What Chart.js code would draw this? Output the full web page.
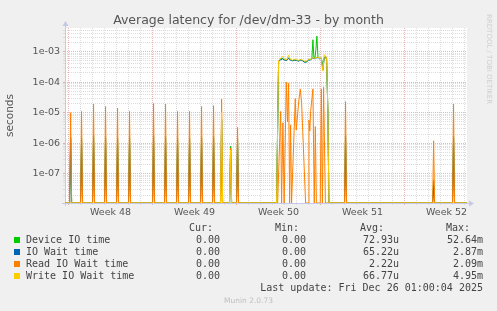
<!DOCTYPE html>
<html>
<head>
<meta charset="utf-8">
<script src="https://cdn.jsdelivr.net/npm/chart.js@4"></script>
<style>
  html, body { margin: 0; padding: 0; background: #f0f0f0; }
  #wrap { position: relative; width: 497px; height: 311px; overflow: hidden; font-family: "DejaVu Sans"; }
  #chart { position: absolute; left: 0; top: 0; }
  .t { position: absolute; white-space: pre; }
  .title { left: 0; width: 497px; text-align: center; top: 12px; font-size: 12.5px; line-height: 15px; color: #555; }
  .mono { font-family: "DejaVu Sans Mono"; font-size: 10px; line-height: 12px; color: #444; }
  .sq { position: absolute; width: 6px; height: 6px; left: 14px; }
  .munin { left: 0; width: 497px; text-align: center; top: 296px; font-size: 7.5px; line-height: 9px; color: #c0c0c0; }
  .rrd { left: 484px; top: 14px; writing-mode: vertical-rl; font-size: 7px; line-height: 9px; color: #cfcfcf; }
</style>
</head>
<body>
<div id="wrap">
  <canvas id="chart" width="497" height="311"></canvas>
  <div class="t title">Average latency for /dev/dm-33 - by month</div>
  <div class="t rrd">RRDTOOL / TOBI OETIKER</div>
  <div id="legend"></div>
  <div class="t munin">Munin 2.0.73</div>
</div>
<script>
// x values are days since the first week line (start of Week 48)
const weekLabels = ['Week 48', 'Week 49', 'Week 50', 'Week 51', 'Week 52'];
const weekMid = [3.5, 10.5, 17.5, 24.5, 31.5];
const yDecades = [1e-7, 1e-6, 1e-5, 1e-4, 1e-3];
const yLabels = ['1e-07', '1e-06', '1e-05', '1e-04', '1e-03'];

const seriesNames = ['Device IO time', 'IO Wait time', 'Read IO Wait time', 'Write IO Wait time'];
const seriesColors = ['#00cc00', '#0066b3', '#ff8000', '#ffcc00'];
const curVals = ['0.00', '0.00', '0.00', '0.00'];
const minVals = ['0.00', '0.00', '0.00', '0.00'];
const avgVals = ['72.93u', '65.22u', '2.22u', '66.77u'];
const maxVals = ['52.64m', '2.87m', '2.09m', '4.95m'];
const lastUpdate = 'Last update: Fri Dec 26 01:00:04 2025';

// short nightly spikes (everything else is 0 outside the busy block)
const spikeDays   = [0.17, 1.08, 2.08, 3.08, 4.08, 5.08, 7.08, 8.08, 9.08, 10.08, 11.08, 12.08, 12.75, 13.5, 14.08, 23.08, 30.42, 32.08];
const spikeRead   = [1.0e-5, 1.1e-5, 1.9e-5, 1.6e-5, 1.4e-5, 1.1e-5, 2.0e-5, 1.9e-5, 1.1e-5, 1.1e-5, 1.6e-5, 1.7e-5, 2.8e-5, 7e-7, 3.3e-6, 2.3e-5, 1.2e-6, 1.9e-5];
const spikeDevice = [1.6e-6, 1.5e-6, 1.8e-6, 1.6e-6, 1.5e-6, 1.6e-6, 1.8e-6, 1.7e-6, 1.5e-6, 1.5e-6, 1.6e-6, 1.7e-6, 6e-6, 8e-7, 1.5e-6, 1.8e-6, 6e-8, 1.7e-6];
const spikeWait   = [1.4e-6, 1.3e-6, 1.6e-6, 1.4e-6, 1.3e-6, 1.4e-6, 1.6e-6, 1.5e-6, 1.3e-6, 1.3e-6, 1.4e-6, 1.5e-6, 6e-6, 7e-7, 1.3e-6, 1.6e-6, 4e-8, 1.5e-6];
const spikeWrite  = [0, 0, 0, 0, 0, 0, 0, 0, 0, 0, 0, 0, 1.0e-5, 6e-7, 0, 0, 0, 0];

// busy block in week 50
const busyDays   = [17.33, 17.5, 17.67, 17.83, 18.0, 18.17, 18.33, 18.5, 18.67, 18.83, 19.0, 19.17, 19.33, 19.5, 19.67, 19.83, 20.0, 20.17, 20.28, 20.36, 20.44, 20.53, 20.61, 20.69, 20.78, 20.92, 21.06, 21.19, 21.31, 21.42, 21.5, 21.61, 21.69];
const busyDevice = [0, 4.9e-4, 5.6e-4, 6.0e-4, 5.4e-4, 5.2e-4, 6.3e-4, 5.3e-4, 5.1e-4, 5.3e-4, 5.2e-4, 5.0e-4, 5.3e-4, 5.1e-4, 4.6e-4, 4.7e-4, 5.4e-4, 5.5e-4, 6.5e-4, 2.45e-3, 6.5e-4, 6.2e-4, 1.2e-3, 3.2e-3, 7.0e-4, 6.0e-4, 6.2e-4, 3.5e-4, 6.5e-4, 6.8e-4, 5.5e-4, 1.0e-5, 0];
const busyWait   = [0, 4.8e-4, 5.4e-4, 5.8e-4, 5.3e-4, 5.1e-4, 6.0e-4, 5.2e-4, 5.0e-4, 5.2e-4, 5.1e-4, 4.9e-4, 5.2e-4, 5.0e-4, 4.5e-4, 4.6e-4, 5.3e-4, 5.4e-4, 5.9e-4, 6.2e-4, 6.0e-4, 5.8e-4, 6.0e-4, 6.4e-4, 6.5e-4, 5.8e-4, 6.0e-4, 2.5e-4, 6.5e-4, 7.0e-4, 5.6e-4, 1.0e-5, 0];
const busyWrite  = [0, 5.0e-4, 6.2e-4, 7.0e-4, 5.6e-4, 5.4e-4, 7.6e-4, 5.5e-4, 5.3e-4, 5.6e-4, 5.4e-4, 5.2e-4, 5.5e-4, 5.3e-4, 4.9e-4, 5.0e-4, 5.6e-4, 5.6e-4, 6.0e-4, 6.4e-4, 6.2e-4, 6.0e-4, 6.2e-4, 6.6e-4, 6.7e-4, 6.0e-4, 6.2e-4, 2.3e-4, 7.8e-4, 7.2e-4, 5.8e-4, 1.0e-5, 0];
const busyReadDays = [17.42, 17.67, 17.75, 17.86, 17.96, 18.14, 18.24, 18.33, 18.42, 18.5, 18.58, 18.89, 18.97, 19.19, 19.31, 19.42, 19.75, 19.95, 20.03, 20.1, 20.17, 20.36, 20.47, 20.56, 20.65, 20.97, 21.06, 21.15, 21.25, 21.4];
const busyRead     = [0, 1.1e-5, 0, 4.7e-6, 0, 1.0e-4, 5e-6, 9.2e-5, 0, 4e-6, 0, 2.9e-5, 2.7e-6, 2.6e-5, 6e-5, 2e-5, 0, 0, 5.7e-6, 2.5e-6, 1.1e-5, 6e-5, 0, 3.5e-6, 0, 0, 6e-5, 0, 6.8e-5, 0];

const X_MIN = -0.3, X_MAX = 33.2;
const Y_MIN = 1.1e-8, Y_MAX = 5.95e-3;
const STEP = 1 / 12; // one 2h sample, in days

// log axis can't show 0, rrdtool puts it on the floor -> same here
function buildSeries(spikeVals, days, vals) {
  const pts = [{x: X_MIN, y: 0}, {x: X_MAX, y: 0}];
  spikeDays.forEach((d, i) => {
    if (!spikeVals[i]) return;
    pts.push({x: d - STEP, y: 0}, {x: d, y: spikeVals[i]}, {x: d + STEP, y: 0});
  });
  days.forEach((d, i) => pts.push({x: d, y: vals[i]}));
  pts.sort((a, b) => a.x - b.x);
  return pts.map(p => ({x: p.x, y: p.y > 0 ? p.y : Y_MIN}));
}

const xTicks = [];
for (let d = 0; d <= 33; d++) xTicks.push(d);
weekMid.forEach(v => xTicks.push(v));
xTicks.sort((a, b) => a - b);

const yTicks = [];
for (let e = -8; e <= -3; e++) {
  for (let m = 1; m <= 9; m++) {
    const v = parseFloat(m + 'e' + e);
    if (v >= Y_MIN && v <= Y_MAX) yTicks.push(v);
  }
}

const RED = 'rgba(215, 120, 120, 0.55)';
const GREY = '#dddddd';

function xGrid(c) {
  const v = c.tick ? c.tick.value : null;
  if (v === null || !Number.isInteger(v)) return 'rgba(0,0,0,0)';
  return v % 7 === 0 ? RED : GREY;
}
function yGrid(c) {
  const v = c.tick ? c.tick.value : null;
  return yDecades.indexOf(v) >= 0 ? RED : GREY;
}

const axisColor = '#c4c9ec';
const backdrop = {
  id: 'backdrop',
  beforeDraw(chart) {
    const {ctx, chartArea: a} = chart;
    ctx.save();
    ctx.fillStyle = '#fff';
    ctx.fillRect(a.left, a.top, a.right - a.left, a.bottom - a.top);
    ctx.restore();
  },
  beforeDatasetsDraw(chart) {
    const {ctx, chartArea: a} = chart;
    const lx = a.left + 0.5, by = a.bottom + 0.5;
    ctx.save();
    ctx.strokeStyle = axisColor;
    ctx.fillStyle = axisColor;
    ctx.lineWidth = 1;
    ctx.beginPath();
    ctx.moveTo(lx, a.bottom + 3);
    ctx.lineTo(lx, a.top - 3);
    ctx.moveTo(a.left - 3, by);
    ctx.lineTo(a.right + 3, by);
    ctx.stroke();
    ctx.beginPath();
    ctx.moveTo(lx, a.top - 7);
    ctx.lineTo(lx - 3, a.top - 2);
    ctx.lineTo(lx + 3, a.top - 2);
    ctx.closePath();
    ctx.fill();
    ctx.beginPath();
    ctx.moveTo(a.right + 7, by);
    ctx.lineTo(a.right + 2, by - 3);
    ctx.lineTo(a.right + 2, by + 3);
    ctx.closePath();
    ctx.fill();
    ctx.restore();
  }
};

Chart.defaults.font.family = 'DejaVu Sans';

const seriesData = [
  buildSeries(spikeDevice, busyDays, busyDevice),
  buildSeries(spikeWait, busyDays, busyWait),
  buildSeries(spikeRead, busyReadDays, busyRead),
  buildSeries(spikeWrite, busyDays, busyWrite)
];
const drawOrder = [3, 2, 1, 0]; // rrdtool paints later series on top

new Chart(document.getElementById('chart'), {
  type: 'line',
  data: {
    datasets: seriesNames.map((name, i) => ({
      label: name,
      data: seriesData[i],
      borderColor: seriesColors[i],
      borderWidth: 1,
      pointRadius: 0,
      tension: 0,
      fill: false,
      order: drawOrder[i]
    }))
  },
  options: {
    responsive: false,
    maintainAspectRatio: false,
    animation: false,
    layout: { padding: { left: 0, top: 28, right: 30, bottom: 0 } },
    plugins: { legend: { display: false }, tooltip: { enabled: false } },
    scales: {
      x: {
        type: 'linear',
        min: X_MIN,
        max: X_MAX,
        afterFit: s => { s.height = 311 - 203; },
        afterBuildTicks: s => { s.ticks = xTicks.map(v => ({value: v})); },
        ticks: {
          autoSkip: false,
          maxRotation: 0,
          minRotation: 0,
          padding: 2,
          color: '#555',
          font: { size: 9.5 },
          callback: v => {
            const i = weekMid.indexOf(v);
            return i < 0 ? '' : weekLabels[i];
          }
        },
        grid: { color: xGrid, tickColor: xGrid, tickLength: 2, lineWidth: 1, tickBorderDash: [] },
        border: { display: false, dash: [1, 1] }
      },
      y: {
        type: 'logarithmic',
        min: Y_MIN,
        max: Y_MAX,
        afterFit: s => { s.width = 65; },
        afterBuildTicks: s => { s.ticks = yTicks.map(v => ({value: v})); },
        ticks: {
          autoSkip: false,
          padding: 3,
          color: '#555',
          font: { size: 9.5 },
          callback: v => {
            const i = yDecades.indexOf(v);
            return i < 0 ? '' : yLabels[i];
          }
        },
        grid: { color: yGrid, tickColor: yGrid, tickLength: 2, lineWidth: 1, tickBorderDash: [] },
        border: { display: false, dash: [1, 1] },
        title: { display: true, text: 'seconds', color: '#555', font: { size: 10.5 } }
      }
    }
  },
  plugins: [backdrop]
});

// legend block under the chart
const legend = document.getElementById('legend');
function addText(cls, text, top, left, right) {
  const d = document.createElement('div');
  d.className = 't ' + cls;
  d.textContent = text;
  d.style.top = top + 'px';
  if (left !== null) d.style.left = left + 'px';
  if (right !== null) d.style.right = (497 - right) + 'px';
  legend.appendChild(d);
}
const headTop = 222;
addText('mono', 'Cur:', headTop, null, 213);
addText('mono', 'Min:', headTop, null, 299);
addText('mono', 'Avg:', headTop, null, 384);
addText('mono', 'Max:', headTop, null, 470);
seriesNames.forEach((name, i) => {
  const top = 233.5 + i * 12;
  const sq = document.createElement('div');
  sq.className = 'sq';
  sq.style.top = (top + 3.5) + 'px';
  sq.style.background = seriesColors[i];
  legend.appendChild(sq);
  addText('mono', name, top, 26, null);
  addText('mono', curVals[i], top, null, 220);
  addText('mono', minVals[i], top, null, 306);
  addText('mono', avgVals[i], top, null, 399);
  addText('mono', maxVals[i], top, null, 483);
});
addText('mono', lastUpdate, 281.5, null, 483);
</script>
</body>
</html>
